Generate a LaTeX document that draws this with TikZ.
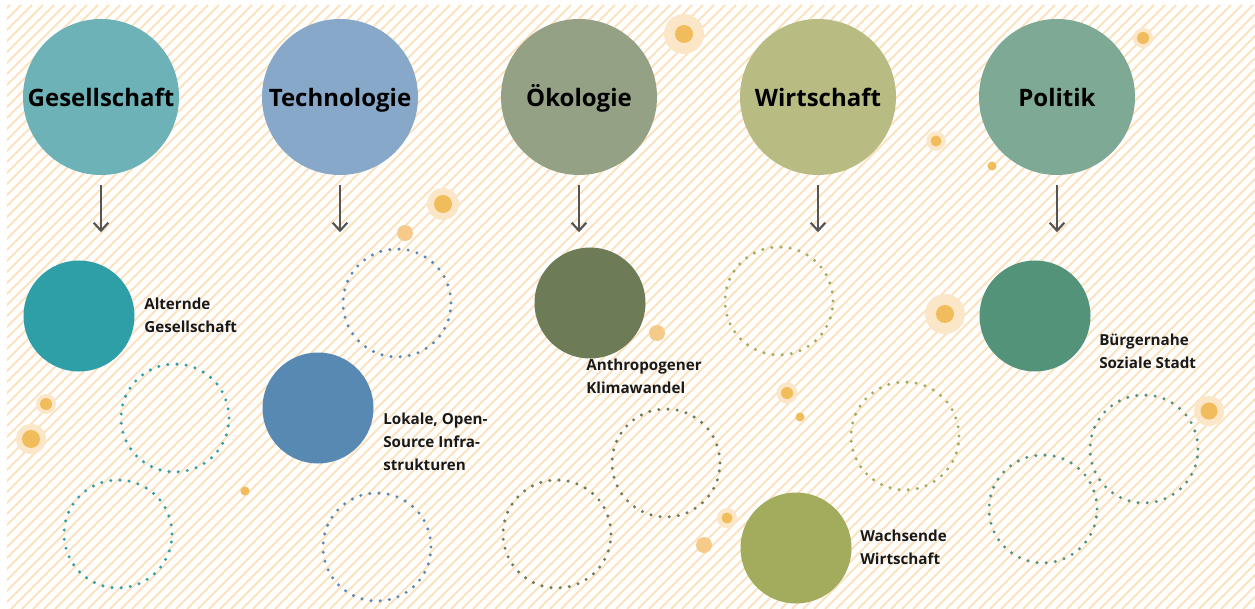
\documentclass[tikz,border=0pt]{standalone}
\usepackage{fontspec}
\setmainfont{Open Sans}
\usetikzlibrary{arrows.meta, positioning}
\definecolor{stripe}{HTML}{FCE2BE}
\definecolor{spotcore}{HTML}{F0BC5C}
\definecolor{spothalo}{HTML}{FCE6C8}
\definecolor{spotlight}{HTML}{F6CA88}
\definecolor{gesTop}{HTML}{6DB2B7}
\definecolor{techTop}{HTML}{88A8C9}
\definecolor{oekoTop}{HTML}{94A185}
\definecolor{wirtTop}{HTML}{B8BC82}
\definecolor{polTop}{HTML}{7EA994}
\definecolor{gesSub}{HTML}{2E9FA6}
\definecolor{techSub}{HTML}{5889B3}
\definecolor{oekoSub}{HTML}{6D7B56}
\definecolor{wirtSub}{HTML}{A3AB5C}
\definecolor{polSub}{HTML}{52937A}
\definecolor{arrgray}{HTML}{555555}
% spot: x, y, core radius, halo radius (pt)
\newcommand{\spot}[4]{\fill[spothalo] (#1,#2) circle (#4pt);
  \fill[spotcore] (#1,#2) circle (#3pt);}

\begin{document}
\begin{tikzpicture}[
  x=0.75pt, y=-0.75pt,
  topic/.style={circle, minimum size=117pt, inner sep=0pt,
    text height=18pt, text depth=3pt,
    font=\fontsize{18}{20}\selectfont\bfseries},
  trend/.style={circle, minimum size=83.25pt, inner sep=0pt},
  blank/.style={circle, minimum size=81pt, inner sep=0pt, draw,
    line width=2.5pt, line cap=round, dash pattern=on 0pt off 6.9pt},
  lbl/.style={inner sep=0pt, align=left, anchor=north west,
    text=black!90, font=\fontsize{11.4}{17}\selectfont\bfseries},
  arr/.style={-{Straight Barb[length=6pt, width=11pt]}, arrgray,
    line width=1.6pt}
]
  \useasboundingbox (0,0) rectangle (1255,609);
  \fill[white] (0,0) rectangle (1255,609);
  \begin{scope}
    \clip (7,5) rectangle (1255,609);
    \foreach \a in {-605,-594,...,1265}
      \draw[stripe, line width=1.4pt] (\a,609) -- ++(604,-604);
  \end{scope}

  % orange spots
  \spot{46}{404}{4.5}{7.5}
  \spot{31}{439}{6.75}{11.25}
  \fill[spotcore] (245,491) circle (3.4pt);
  \spot{443}{204}{6.75}{12}
  \fill[spotlight] (405,233) circle (6pt);
  \spot{684}{34}{6.75}{15}
  \fill[spotlight] (657,333) circle (6pt);
  \spot{727}{518}{4.1}{7.5}
  \fill[spotlight] (704,545) circle (6pt);
  \spot{787}{393}{4.5}{7.9}
  \fill[spotcore] (800,417) circle (3.4pt);
  \spot{936}{141}{4.1}{7.3}
  \fill[spotcore] (992,166) circle (3.4pt);
  \spot{1143}{38}{4.5}{7.5}
  \spot{945}{314}{6.75}{15}
  \spot{1209}{411}{6.4}{11.25}

  % top row
  \node[topic, fill=gesTop]  (ges)  at (101,97)  {Gesellschaft};
  \node[topic, fill=techTop] (tech) at (340,97)  {Technologie};
  \node[topic, fill=oekoTop] (oeko) at (579,97)  {Ökologie};
  \node[topic, fill=wirtTop] (wirt) at (818,97)  {Wirtschaft};
  \node[topic, fill=polTop]  (pol)  at (1057,97) {Politik};

  \foreach \n in {ges,tech,oeko,wirt,pol}
    \draw[arr] ([yshift=-7.5pt]\n.south) -- ([yshift=-42.75pt]\n.south);

  % Gesellschaft
  \node[trend, fill=gesSub] (ges-trend) at (79,316) {};
  \node[lbl] (ges-lbl) at (144,298) {Alternde\\Gesellschaft};
  \node[blank, gesSub] (ges-a) at (175,418) {};
  \node[blank, gesSub] (ges-b) at (118,534) {};

  % Technologie
  \node[blank, techSub] (tech-a) at (397,303) {};
  \node[trend, fill=techSub] (tech-trend) at (318,408) {};
  \node[lbl] (tech-lbl) at (383,413) {Lokale, Open-\\Source Infra-\\strukturen};
  \node[blank, techSub] (tech-b) at (377,547) {};

  % Oekologie
  \node[trend, fill=oekoSub] (oeko-trend) at (590,303) {};
  \node[lbl] (oeko-lbl) at (586,359) {Anthropogener\\Klimawandel};
  \node[blank, oekoSub] (oeko-a) at (666,463) {};
  \node[blank, oekoSub] (oeko-b) at (557,534) {};

  % Wirtschaft
  \node[blank, wirtSub] (wirt-a) at (779,301) {};
  \node[blank, wirtSub] (wirt-b) at (905,436) {};
  \node[trend, fill=wirtSub] (wirt-trend) at (796,548) {};
  \node[lbl] (wirt-lbl) at (860,530) {Wachsende\\Wirtschaft};

  % Politik
  \node[trend, fill=polSub] (pol-trend) at (1035,316) {};
  \node[lbl] (pol-lbl) at (1099,334) {Bürgernahe\\Soziale Stadt};
  \node[blank, polSub] (pol-a) at (1144,449) {};
  \node[blank, polSub] (pol-b) at (1043,509) {};
\end{tikzpicture}
\end{document}
